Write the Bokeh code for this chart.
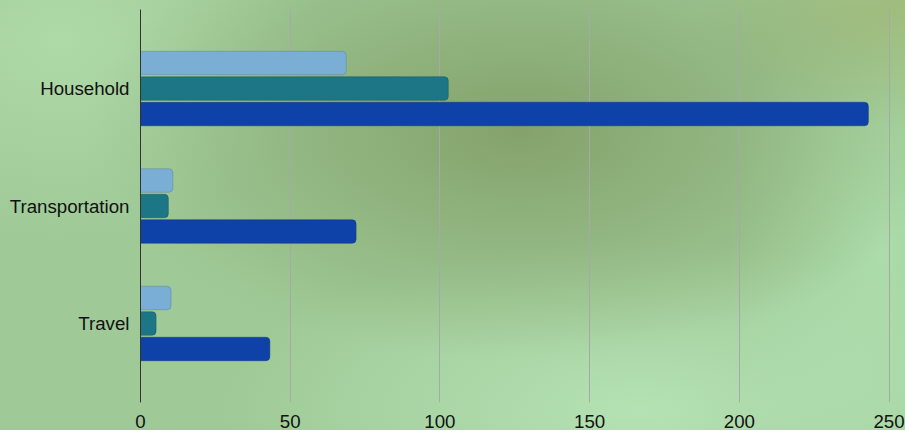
from bokeh.plotting import figure
from bokeh.models import FactorRange, Range1d, FixedTicker, ColumnDataSource
from bokeh.transform import dodge
from bokeh.embed import file_html
from bokeh.resources import INLINE

categories = ["Household", "Transportation", "Travel"]
series_light = [68.7, 10.8, 10.2]
series_teal = [102.8, 9.3, 5.2]
series_dark = [243.1, 72.0, 43.2]
x_ticks = [0, 50, 100, 150, 200, 250]

src = ColumnDataSource(dict(cat=categories, a=series_light, b=series_teal, c=series_dark))

p = figure(width=905, height=430,
           y_range=FactorRange(factors=categories[::-1], range_padding=0.1725,
                               range_padding_units="absolute"),
           x_range=Range1d(0, 255.5),
           output_backend="svg", toolbar_location=None,
           min_border_left=140, min_border_top=9, min_border_right=0, min_border_bottom=28)

p.background_fill_alpha = 0
p.border_fill_alpha = 0
p.outline_line_color = None

bar_h = 0.2
pitch = 0.217
common = dict(height=bar_h, source=src, line_width=1, line_alpha=0.45,
              border_radius=(0, 4, 4, 0))
p.hbar(y=dodge("cat", pitch, range=p.y_range), left=0, right="a",
       fill_color="#7BAED4", line_color="#5a7f9a", **common)
p.hbar(y=dodge("cat", 0, range=p.y_range), left=0, right="b",
       fill_color="#1D7686", line_color="#145560", **common)
p.hbar(y=dodge("cat", -pitch, range=p.y_range), left=0, right="c",
       fill_color="#0F42A8", line_color="#0a2f78", **common)

p.xaxis.ticker = FixedTicker(ticks=x_ticks)
p.xaxis.axis_line_color = None
p.xaxis.major_tick_line_color = None
p.xaxis.minor_tick_line_color = None
p.xaxis.major_label_standoff = 6
p.xaxis.major_label_text_font = "Liberation Sans"
p.xaxis.major_label_text_font_size = "18.7px"
p.xaxis.major_label_text_color = "#111111"

p.yaxis.axis_line_color = "#333333"
p.yaxis.major_tick_line_color = None
p.yaxis.minor_tick_line_color = None
p.yaxis.major_label_standoff = 5
p.yaxis.major_label_text_font = "Liberation Sans"
p.yaxis.major_label_text_font_size = "18.7px"
p.yaxis.major_label_text_color = "#111111"

p.xgrid.grid_line_color = "#a8a8a8"
p.xgrid.grid_line_width = 1
p.ygrid.grid_line_color = None

html = file_html(p, INLINE)
css = ("<style>body{background-color:#9fca97;"
       "background-image:"
       "radial-gradient(ellipse 430px 230px at 520px 130px, rgba(128,155,100,0.85), rgba(128,155,100,0) 100%),"
       "radial-gradient(ellipse 200px 120px at 890px 10px, rgba(160,185,120,0.85), rgba(160,185,120,0) 100%),"
       "radial-gradient(ellipse 420px 170px at 640px 410px, rgba(185,230,185,0.85), rgba(185,230,185,0) 100%),"
       "radial-gradient(ellipse 150px 300px at 880px 250px, rgba(175,225,175,0.8), rgba(175,225,175,0) 100%),"
       "radial-gradient(ellipse 260px 200px at 60px 40px, rgba(178,222,172,0.8), rgba(178,222,172,0) 100%);}</style>")
html = html.replace("</head>", css + "</head>", 1)
open("out.html", "w").write(html)
